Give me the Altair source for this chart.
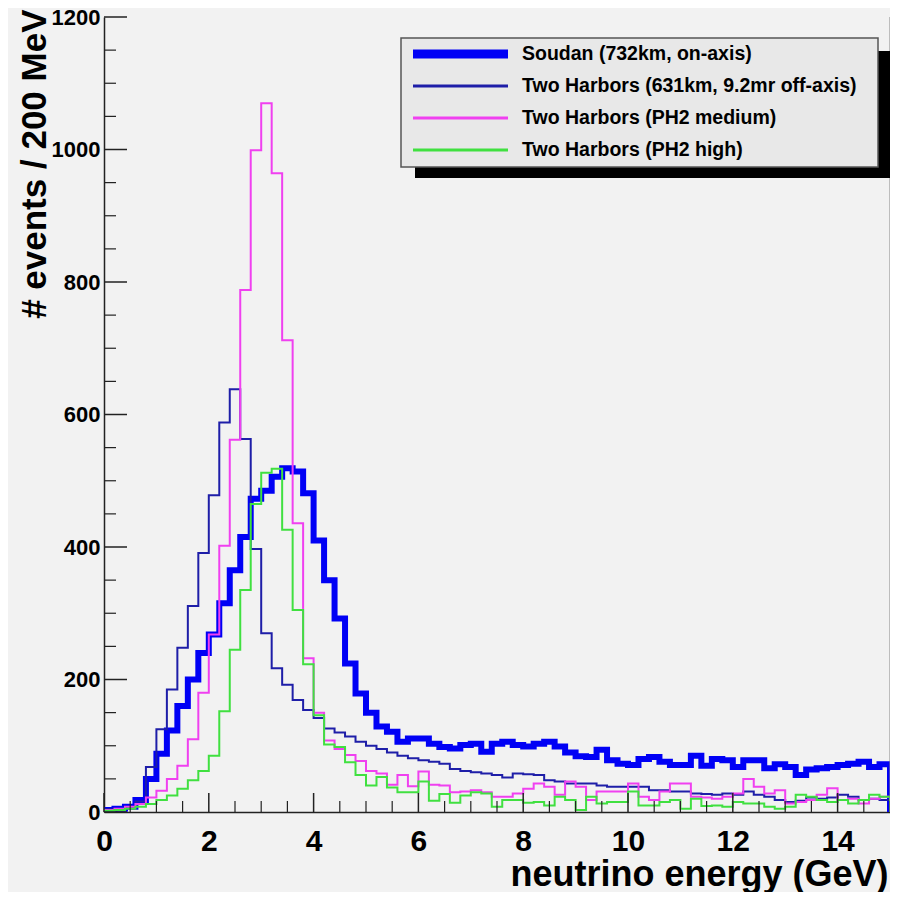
import altair as alt
import pandas as pd

# ---------------- data (events per 0.2 GeV bin, 0 .. 15 GeV) ----------------
BIN_WIDTH = 0.2
N_BINS = 75

soudan = [3, 5, 8, 18, 50, 88, 123, 160, 200, 240,
          268, 315, 365, 415, 473, 485, 506, 519, 514, 481,
          410, 350, 292, 224, 179, 150, 129, 121, 106, 111,
          111, 103, 98, 96, 101, 103, 91, 103, 106, 101,
          99, 103, 106, 99, 90, 84, 83, 94, 78, 73,
          71, 80, 83, 76, 71, 71, 85, 70, 80, 78,
          68, 78, 78, 66, 72, 68, 56, 64, 66, 68,
          71, 73, 76, 68, 72]

th_offaxis = [4, 5, 8, 16, 68, 125, 185, 248, 311, 391,
              478, 588, 638, 563, 397, 270, 217, 192, 169, 154,
              142, 126, 120, 114, 106, 100, 95, 90, 85, 81,
              78, 76, 73, 65, 62, 60, 58, 56, 52, 58,
              57, 56, 48, 46, 43, 43, 43, 40, 38, 38,
              38, 38, 33, 33, 31, 31, 28, 27, 26, 28,
              26, 31, 26, 23, 18, 15, 17, 22, 20, 22,
              26, 23, 18, 20, 18]

ph2_medium = [3, 5, 8, 12, 22, 32, 50, 70, 110, 180,
              268, 402, 562, 788, 999, 1070, 964, 712, 436, 232,
              150, 108, 95, 86, 77, 62, 58, 41, 56, 39,
              61, 41, 40, 30, 31, 33, 30, 23, 23, 28,
              35, 43, 38, 26, 46, 38, 18, 31, 31, 31,
              43, 23, 18, 31, 43, 43, 23, 22, 20, 23,
              28, 50, 38, 28, 33, 13, 15, 18, 26, 36,
              18, 20, 13, 20, 23]

ph2_high = [2, 3, 5, 8, 12, 18, 25, 35, 48, 62,
            85, 152, 245, 335, 465, 512, 518, 426, 305, 223,
            146, 102, 98, 75, 56, 40, 53, 37, 30, 30,
            46, 17, 27, 14, 25, 30, 28, 8, 18, 18,
            14, 15, 10, 23, 18, 3, 23, 13, 15, 15,
            31, 10, 10, 15, 18, 5, 20, 9, 10, 8,
            15, 13, 13, 8, 5, 8, 26, 23, 18, 15,
            18, 13, 18, 26, 23]

series_names = ["Soudan (732km, on-axis)",
                "Two Harbors (631km, 9.2mr off-axis)",
                "Two Harbors (PH2 medium)",
                "Two Harbors (PH2 high)"]
series_values = [soudan, th_offaxis, ph2_medium, ph2_high]
series_colors = ["#0000f5", "#1e1ea8", "#f040f0", "#40e040"]
series_widths = [6, 2, 2, 2]

x_major = [0, 2, 4, 6, 8, 10, 12, 14]
x_minor = [0.5 * k for k in range(31) if (0.5 * k) % 2 != 0]
y_major = [0, 200, 400, 600, 800, 1000, 1200]
y_minor = [50 * k for k in range(25) if (50 * k) % 200 != 0]

# ---------------- layout ----------------
W, H = 786, 795
FONT = "Liberation Sans"
BG = "#f2f2f2"

xs = alt.Scale(domain=[0, 15], nice=False, zero=False)
ys = alt.Scale(domain=[0, 1200], nice=False)

layers = []

# histogram step lines
for name, vals, col, sw in zip(series_names, series_values, series_colors, series_widths):
    edges = [i * BIN_WIDTH for i in range(N_BINS)] + [N_BINS * BIN_WIDTH]
    counts = list(vals) + [0]
    df = pd.DataFrame({"E": edges, "N": counts})
    layers.append(
        alt.Chart(df).mark_line(interpolate="step-after", color=col,
                                strokeWidth=sw, strokeJoin="miter", clip=True)
        .encode(x=alt.X("E:Q", scale=xs,
                        axis=alt.Axis(values=x_major, format="d", ticks=False, tickSize=0,
                                      labelFontSize=30, labelFont=FONT, labelFontWeight="bold",
                                      labelColor="black", labelPadding=14,
                                      domainColor="#222222", domainWidth=1.5, grid=False,
                                      title="neutrino energy (GeV)", titleFont=FONT,
                                      titleFontSize=36, titleFontWeight="bold",
                                      titleColor="black", titleAlign="right",
                                      titleBaseline="alphabetic", titleX=W - 2, titleY=73,
                                      labelFlush=False, labelOverlap=False)),
                y=alt.Y("N:Q", scale=ys,
                        axis=alt.Axis(values=y_major, format="d", ticks=False, tickSize=0,
                                      labelFontSize=22, labelFont=FONT, labelFontWeight="bold",
                                      labelColor="black", labelPadding=4,
                                      domainColor="#222222", domainWidth=1.5, grid=False,
                                      title="# events / 200 MeV", titleFont=FONT,
                                      titleFontSize=35, titleFontWeight="bold",
                                      titleColor="black", titleAngle=270, titleAlign="right",
                                      titleBaseline="alphabetic", titleX=-59, titleY=-8,
                                      labelFlush=False, labelOverlap=False)))
    )

# inward tick marks
tick_color = "#222222"
layers.append(alt.Chart(pd.DataFrame({"t": x_major})).mark_rule(color=tick_color, strokeWidth=1.5)
              .encode(x=alt.X("t:Q", scale=xs), y=alt.value(H), y2=alt.value(H - 19)))
layers.append(alt.Chart(pd.DataFrame({"t": x_minor})).mark_rule(color=tick_color, strokeWidth=1.2)
              .encode(x=alt.X("t:Q", scale=xs), y=alt.value(H), y2=alt.value(H - 11)))
layers.append(alt.Chart(pd.DataFrame({"t": y_major})).mark_rule(color=tick_color, strokeWidth=1.5)
              .encode(y=alt.Y("t:Q", scale=ys), x=alt.value(0), x2=alt.value(23)))
layers.append(alt.Chart(pd.DataFrame({"t": y_minor})).mark_rule(color=tick_color, strokeWidth=1.2)
              .encode(y=alt.Y("t:Q", scale=ys), x=alt.value(0), x2=alt.value(12)))
# right frame edge
layers.append(alt.Chart(pd.DataFrame({"t": [15]})).mark_rule(color="#888888", strokeWidth=1)
              .encode(x=alt.X("t:Q", scale=xs), y=alt.value(0), y2=alt.value(H)))

# legend box with shadow
LX0, LX1, LY0, LY1 = 297, 774, 21, 150
layers.append(alt.Chart(pd.DataFrame({"a": [0]})).mark_rect(color="black")
              .encode(x=alt.value(LX0 + 14), x2=alt.value(LX1 + 12),
                      y=alt.value(LY0 + 13), y2=alt.value(LY1 + 11)))
layers.append(alt.Chart(pd.DataFrame({"a": [0]})).mark_rect(fill="#e8e8e8", stroke="#555555",
                                                          strokeWidth=1.5)
              .encode(x=alt.value(LX0), x2=alt.value(LX1), y=alt.value(LY0), y2=alt.value(LY1)))

leg = pd.DataFrame({
    "name": series_names,
    "color": series_colors,
    "sw": [9, 3, 3, 3],
    "ly": [LY0 + 16 + 32 * i for i in range(len(series_names))],
})
layers.append(alt.Chart(leg).mark_rule()
              .encode(x=alt.value(LX0 + 12), x2=alt.value(LX0 + 107),
                      y=alt.Y("ly:Q", scale=None),
                      color=alt.Color("color:N", scale=None),
                      strokeWidth=alt.StrokeWidth("sw:Q", scale=None)))
layers.append(alt.Chart(leg).mark_text(align="left", baseline="middle", font=FONT,
                                       fontSize=19.5, fontWeight="bold", color="black")
              .encode(x=alt.value(LX0 + 121), y=alt.Y("ly:Q", scale=None), text="name:N"))

chart = (alt.layer(*layers)
         .properties(width=W, height=H,
                     autosize=alt.AutoSizeParams(type="none"),
                     padding={"left": 96, "top": 9, "right": 0, "bottom": 80},
                     background=BG)
         .configure_view(stroke=None, fill=BG))

chart.save("out.html", embed_options={"renderer": "svg", "actions": False})
